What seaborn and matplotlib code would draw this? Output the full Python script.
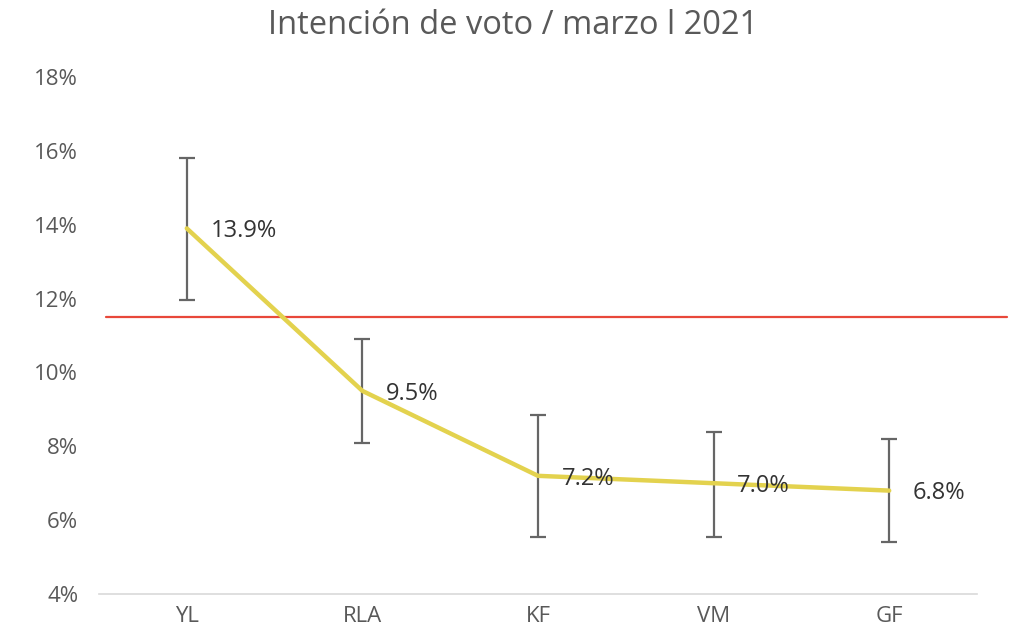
import matplotlib
matplotlib.use('Agg')
import matplotlib.pyplot as plt
import matplotlib.ticker as mticker
import seaborn as sns
import pandas as pd
import numpy as np

# data
candidates = ['YL', 'RLA', 'KF', 'VM', 'GF']
vote = [13.9, 9.5, 7.2, 7.0, 6.8]
err_low = [11.95, 8.1, 5.55, 5.55, 5.4]
err_high = [15.8, 10.9, 8.85, 8.4, 8.2]
threshold = 11.5

df = pd.DataFrame({'candidato': candidates, 'voto': vote})
x = np.arange(len(candidates))
yerr = [np.array(vote) - np.array(err_low), np.array(err_high) - np.array(vote)]

sns.set_style('white')
plt.rcParams['font.family'] = ['Open Sans', 'DejaVu Sans']
grey = '#595959'

fig = plt.figure(figsize=(10.10, 6.31), dpi=100)
ax = fig.add_axes([99 / 1010, 37 / 631, 878 / 1010, 517 / 631])

ax.errorbar(x, vote, yerr=yerr, fmt='none', ecolor='#666666', elinewidth=1.6,
            capsize=6, capthick=1.6, zorder=2)
sns.lineplot(x=x, y='voto', data=df, ax=ax, color='#E3D24E', linewidth=3.2, zorder=3)

ax.axhline(threshold, xmin=0.008, xmax=1.034, color='#E8483A', linewidth=1.6,
           clip_on=False, zorder=1)

for xi, v in zip(x, vote):
    ax.annotate(f'{v:.1f}%', (xi, v), xytext=(17, -2), textcoords='offset points',
                ha='left', va='center', fontsize=17, color='#333333', zorder=4)

ax.set_xlim(-0.5, len(candidates) - 0.5)
ax.set_ylim(4, 18)
ax.set_xticks(x)
ax.set_xticklabels(candidates)
ax.set_yticks(np.arange(4, 19, 2))
ax.yaxis.set_major_formatter(mticker.FuncFormatter(lambda v, p: f'{v:.0f}%'))
ax.tick_params(axis='both', length=0, labelsize=16, colors=grey)
ax.tick_params(axis='y', pad=15)
ax.tick_params(axis='x', pad=9)

sns.despine(ax=ax, left=True, top=True, right=True)
ax.spines['bottom'].set_color('#d9d9d9')
ax.spines['bottom'].set_linewidth(1.2)
ax.set_xlabel('')
ax.set_ylabel('')

fig.suptitle('Intención de voto / marzo l 2021', fontsize=23.5, color=grey,
             x=0.508, y=0.985)

fig.savefig('out.png', dpi=100)
